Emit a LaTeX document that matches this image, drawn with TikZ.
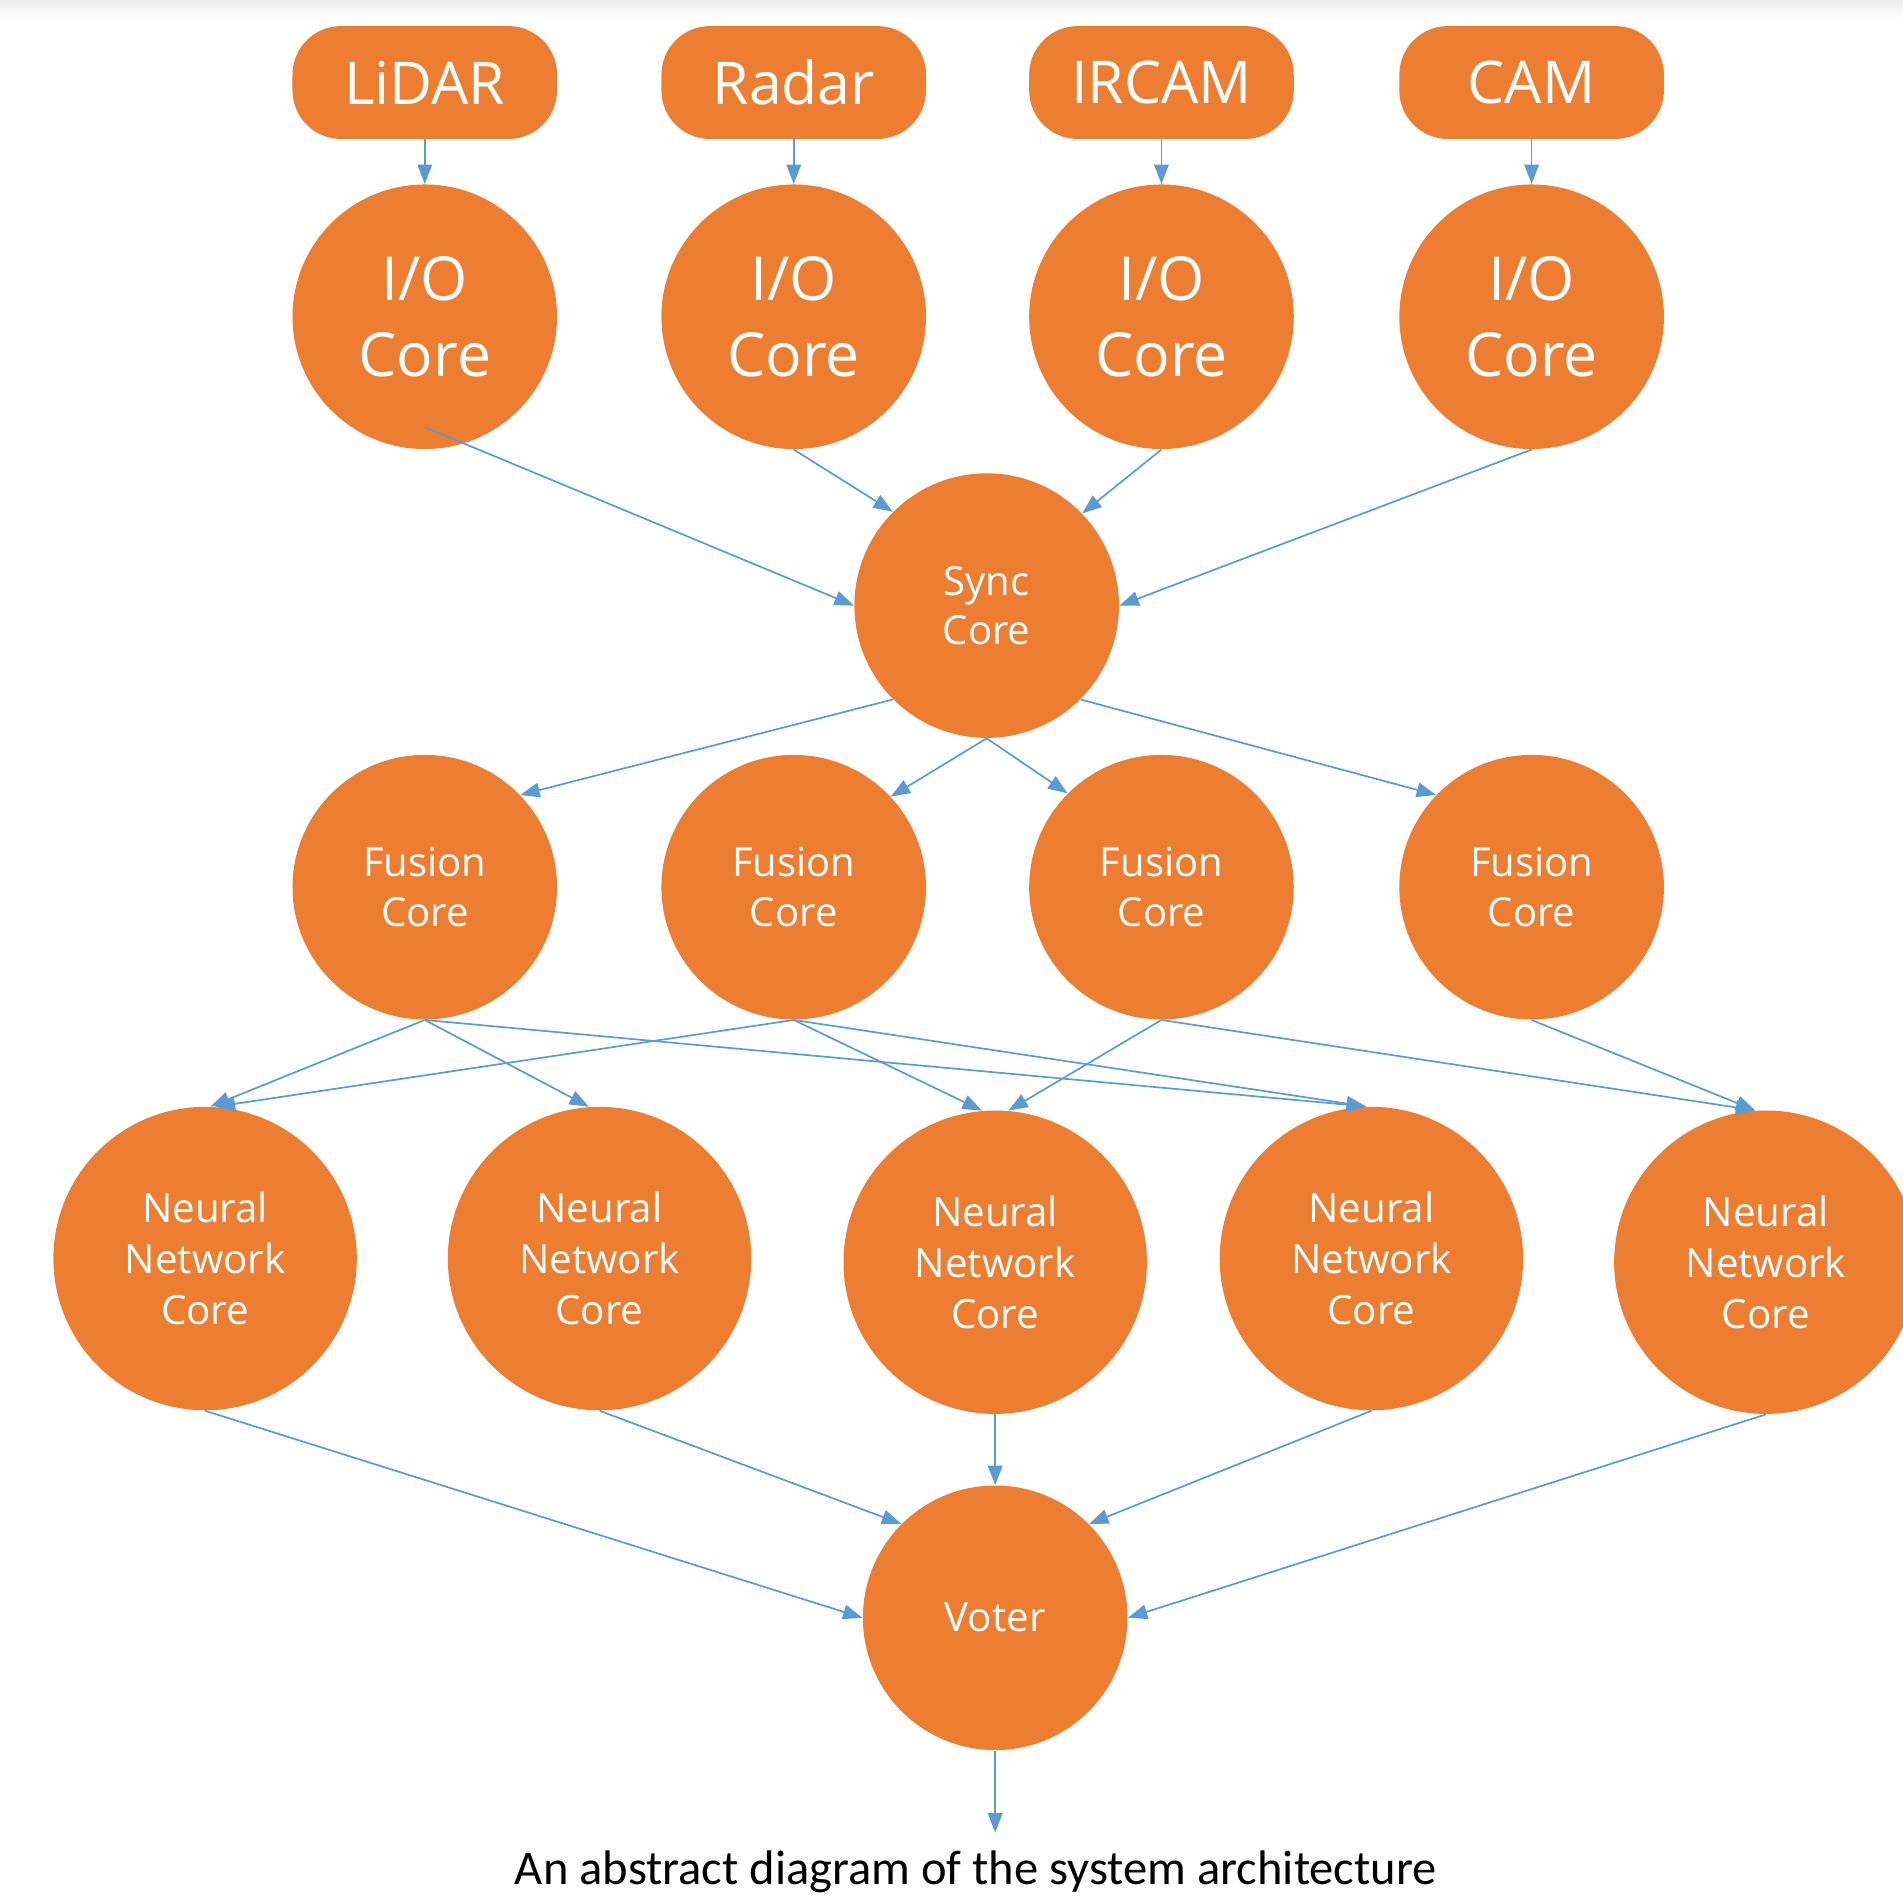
\documentclass[tikz,border=0pt]{standalone}
\usepackage{fontspec}
\setmainfont{Open Sans}
\newfontfamily\capfont{Carlito}
\usetikzlibrary{arrows.meta}
\definecolor{orng}{HTML}{ED7D31}
\definecolor{lblue}{HTML}{5B9BD5}
\begin{document}
\begin{tikzpicture}[x=0.5pt,y=-0.5pt,
  sensor/.style={fill=orng,draw=none,rounded corners=20pt,minimum width=109pt,minimum height=46.5pt,inner sep=0pt,text=white,font=\fontsize{24.3}{28}\selectfont},
  iocore/.style={circle,fill=orng,draw=none,minimum size=109pt,inner sep=0pt,text=white,align=center,font=\fontsize{25}{31.5}\selectfont},
  midcore/.style={circle,fill=orng,draw=none,minimum size=109pt,inner sep=0pt,text=white,align=center,font=\fontsize{16.5}{20.5}\selectfont},
  nncore/.style={circle,fill=orng,draw=none,minimum size=125pt,inner sep=0pt,text=white,align=center,font=\fontsize{16.6}{21}\selectfont},
  conn/.style={draw=lblue,line width=0.7pt,-{Triangle[length=8pt,width=6pt]}}
]
\useasboundingbox (0,0) rectangle (1568,1562);
\shade[top color=gray!14,bottom color=white] (0,0) rectangle (1568,16);

% sensors
\node[sensor] (s1) at (350,68) {LiDAR};
\node[sensor] (s2) at (654,68) {Radar};
\node[sensor] (s3) at (957,68) {IRCAM};
\node[sensor] (s4) at (1262,68) {CAM};

% I/O cores
\node[iocore] (io1) at (350,261) {I/O\\Core};
\node[iocore] (io2) at (654,261) {I/O\\Core};
\node[iocore] (io3) at (957,261) {I/O\\Core};
\node[iocore] (io4) at (1262,261) {I/O\\Core};

% sync
\node[midcore] (sync) at (813,499) {Sync\\Core};

% fusion
\node[midcore] (f1) at (350,731) {Fusion\\Core};
\node[midcore] (f2) at (654,731) {Fusion\\Core};
\node[midcore] (f3) at (957,731) {Fusion\\Core};
\node[midcore] (f4) at (1262,731) {Fusion\\Core};

% neural network cores
\node[nncore] (n1) at (169,1037) {Neural\\Network\\Core};
\node[nncore] (n2) at (494,1037) {Neural\\Network\\Core};
\node[nncore] (n3) at (820,1040) {Neural\\Network\\Core};
\node[nncore] (n4) at (1130,1037) {Neural\\Network\\Core};
\node[nncore] (n5) at (1455,1040) {Neural\\Network\\Core};

% voter
\node[midcore,font=\fontsize{16.6}{20}\selectfont] (voter) at (820,1333) {Voter};
\coordinate (out) at (820,1510);

\node[font=\capfont\fontsize{20}{24}\selectfont,inner sep=0pt] (cap) at (804,1542) {An abstract diagram of the system architecture};

% sensor -> io
\draw[conn] (s1.south) -- (io1.north);
\draw[conn] (s2.south) -- (io2.north);
\draw[conn] (s3.south) -- (io3.north);
\draw[conn] (s4.south) -- (io4.north);

% io -> sync
\draw[conn] ([yshift=-45.5pt]io1.center) -- (sync.180);
\draw[conn] (io2.south) -- (sync.135);
\draw[conn] (io3.south) -- (sync.44);
\draw[conn] (io4.south) -- (sync.0);

% sync -> fusion
\draw[conn] (sync.225) -- (f1.44);
\draw[conn] (sync.south) -- (f2.43);
\draw[conn] (sync.south) -- (f3.135);
\draw[conn] (sync.-45) -- (f4.136);

% fusion -> nn
\draw[conn] (f1.south) -- (n1.88);
\draw[conn] (f1.south) -- (n2.94);
\draw[conn] (f1.south) -- (n4.92);
\draw[conn] (f2.south) -- (n1.86);
\draw[conn] (f2.south) -- (n3.95);
\draw[conn] (f2.south) -- (n4.92);
\draw[conn] (f3.south) -- (n3.85);
\draw[conn] (f3.south) -- (n5.94);
\draw[conn] (f4.south) -- (n5.94);

% nn -> voter
\draw[conn] (n1.south) -- (voter.180);
\draw[conn] (n2.south) -- (voter.135);
\draw[conn] (n3.south) -- (voter.north);
\draw[conn] (n4.south) -- (voter.45);
\draw[conn] (n5.south) -- (voter.0);

\draw[conn] (voter.south) -- (out);
\end{tikzpicture}
\end{document}
